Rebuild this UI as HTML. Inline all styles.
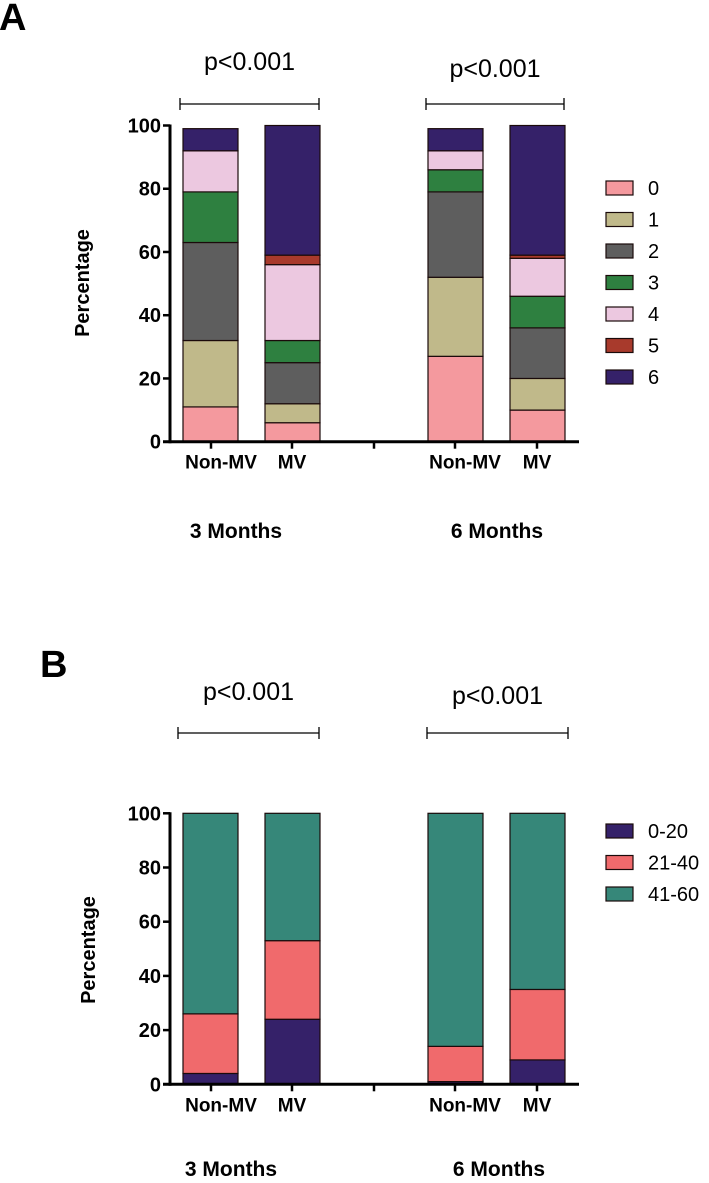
<!DOCTYPE html>
<html><head><meta charset="utf-8"><style>
body{margin:0;background:#fff;width:709px;height:1183px;overflow:hidden}
svg{display:block;font-family:"Liberation Sans",Arial,sans-serif}
</style></head><body>
<svg id="c" width="709" height="1183"></svg>
<script>
const catsX=["Non-MV","MV","Non-MV","MV"];
const groupLabels=["3 Months","6 Months"];
const yTicks=[0,20,40,60,80,100];
const seriesA=["0","1","2","3","4","5","6"];
const colorsA=["#f4999e","#c0b98a","#5e5e5e","#2e8040","#ecc8e0","#a83a2c","#352169"];
const a0=[11,6,27,10];
const a1=[21,6,25,10];
const a2=[31,13,27,16];
const a3=[16,7,7,10];
const a4=[13,24,6,12];
const a5=[0,3,0,1];
const a6=[7,41,7,41];
const seriesB=["0-20","21-40","41-60"];
const colorsB=["#352169","#f06a6c","#368779"];
const b0=[4,24,1,9];
const b1=[22,29,13,26];
const b2=[74,47,86,65];
const pLabels=["p<0.001","p<0.001"];

const NS="http://www.w3.org/2000/svg";
const svg=document.getElementById('c');
function mk(t,a,p){const e=document.createElementNS(NS,t);for(const k in a)e.setAttribute(k,a[k]);(p||svg).appendChild(e);return e;}
const barX=[183,265,428,510], barW=55, tickX=[211,292,374,455,537];

function panel(o){
  const g=mk('g',{});
  
  
  const y=v=>o.y0-(v/100)*(o.y0-o.y100);
  const L=mk('text',{x:o.letterX,y:o.letterY,'font-size':38,'font-weight':'bold'},g);L.textContent=o.letter;
  
  o.brackets.forEach((b,i)=>{
    const bg=mk('g',{},g);
    
    mk('line',{x1:b[0],x2:b[1],y1:o.by,y2:o.by,stroke:'#000','stroke-width':1.3},bg);
    mk('line',{x1:b[0],x2:b[0],y1:o.by-6,y2:o.by+6,stroke:'#000','stroke-width':1.3},bg);
    mk('line',{x1:b[1],x2:b[1],y1:o.by-6,y2:o.by+6,stroke:'#000','stroke-width':1.3},bg);
    const t=mk('text',{x:(b[0]+b[1])/2,y:o.py[i],'font-size':25,'text-anchor':'middle'},bg);t.textContent=pLabels[i];
    
  });
  o.data.forEach((arr,s)=>{
    arr.forEach((v,i)=>{
      let base=0;for(let k=0;k<s;k++)base+=o.data[k][i];
      if(v<=0)return;
      const r=mk('rect',{x:barX[i],y:y(base+v),width:barW,height:y(base)-y(base+v),fill:o.colors[s],stroke:'#1a0a0a','stroke-width':1.2},g);
      
      
    });
  });
  const ax=mk('g',{},g);
  mk('line',{x1:170,x2:170,y1:y(100)-1,y2:y(0)+1.5,stroke:'#000','stroke-width':3},ax);
  yTicks.forEach(v=>{
    mk('line',{x1:163,x2:170,y1:y(v),y2:y(v),stroke:'#000','stroke-width':2.5},ax);
    const t=mk('text',{x:161,y:y(v)+7,'font-size':20,'font-weight':'bold','text-anchor':'end'},ax);t.textContent=v;
  });
  const xa=mk('g',{},g);
  mk('line',{x1:163,x2:579,y1:y(0),y2:y(0),stroke:'#000','stroke-width':3},xa);
  tickX.forEach(x=>mk('line',{x1:x,x2:x,y1:y(0),y2:y(0)+7,stroke:'#000','stroke-width':2.5},xa));
  catsX.forEach((c,i)=>{const t=mk('text',{x:[221,292,465,537][i],y:y(0)+27,'font-size':19,'font-weight':'bold','text-anchor':'middle'},xa);t.textContent=c;});
  groupLabels.forEach((c,i)=>{const t=mk('text',{x:o.gx[i],y:o.gy,'font-size':21,'font-weight':'bold','text-anchor':'middle'},g);t.textContent=c;
    });
  const yt=mk('text',{x:0,y:0,'font-size':20,'font-weight':'bold','text-anchor':'middle',transform:`translate(${o.ytx},${o.yty}) rotate(-90)`},g);
  yt.textContent='Percentage';
  o.series.forEach((s,i)=>{
    const lg=mk('g',{},g);
    const ly=o.ly+i*o.ls;
    mk('rect',{x:606,y:ly-7,width:27,height:14,fill:o.colors[i],stroke:'#1a0a0a','stroke-width':1.2},lg);
    const t=mk('text',{x:648,y:ly+7,'font-size':20},lg);t.textContent=s;
  });
}
panel({name:'panel-a',letter:'A',letterX:-1,letterY:30,y0:441.7,y100:125.5,brackets:[[180,319],[426,564]],by:104,py:[70,77],
  data:[a0,a1,a2,a3,a4,a5,a6],colors:colorsA,series:seriesA,gx:[236,497],gy:538,ytx:89,yty:283,ly:188,ls:31.5});
panel({name:'panel-b',letter:'B',letterX:40,letterY:677,y0:1084.3,y100:813.3,brackets:[[178,319],[427,568]],by:733,py:[700,704],
  data:[b0,b1,b2],colors:colorsB,series:seriesB,gx:[231,499],gy:1176,ytx:95,yty:950,ly:831,ls:31.5});
</script>
</body></html>
